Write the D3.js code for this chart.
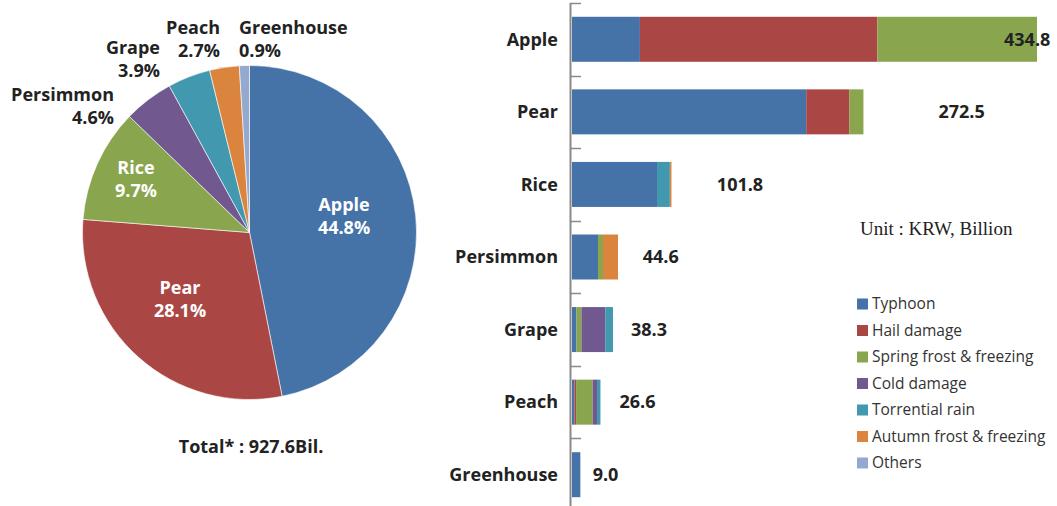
<!DOCTYPE html>
<html>
<head>
<meta charset="utf-8">
<title>Crop damage by cause</title>
<script src="https://d3js.org/d3.v7.min.js"></script>
<style>
  body { margin: 0; background: #fff; }
  text { font-family: "Open Sans", "Noto Sans", sans-serif; }
</style>
</head>
<body>
<script>
// data
var categories = ["Apple", "Pear", "Rice", "Persimmon", "Grape", "Peach", "Greenhouse"];
var totals = [434.8, 272.5, 101.8, 44.6, 38.3, 26.6, 9.0];
var pieShares = ["44.8%", "28.1%", "9.7%", "4.6%", "3.9%", "2.7%", "0.9%"];
var causes = ["Typhoon", "Hail damage", "Spring frost & freezing", "Cold damage",
              "Torrential rain", "Autumn frost & freezing", "Others"];
var typhoon    = [63.5, 219.0, 79.5, 24.3, 4.2, 2.3, 7.8];
var hail       = [222.0, 40.3, 0, 0, 0, 1.5, 0];
var springFrost= [149.3, 13.2, 0, 4.7, 4.6, 15.5, 0];
var coldDamage = [0, 0, 0, 0, 22.3, 4.1, 0];
var torrential = [0, 0, 12.0, 0, 7.2, 3.2, 0];
var autumnFrost= [0, 0, 1.5, 14.0, 0, 0, 0];
var others     = [0, 0, 0, 0, 0, 0, 0];
var totalText = "Total* : 927.6Bil.";
var unitText = "Unit : KRW, Billion";

var colors = ["#4572A7", "#AA4643", "#89A54E", "#71588F", "#4198AF", "#DB843D", "#93A9CF"];

var width = 1057, height = 506;
var svg = d3.select("body").append("svg").attr("width", width).attr("height", height);

// ---------- pie ----------
var cx = 249.5, cy = 232.5, r = 167;
var pie = d3.pie().sort(null).value(function (d) { return d; });
var arc = d3.arc().innerRadius(0).outerRadius(r);
var pg = svg.append("g").attr("transform", "translate(" + cx + "," + cy + ")");
pg.selectAll("path")
  .data(pie(totals))
  .enter().append("path")
  .attr("d", arc)
  .attr("fill", function (d, i) { return colors[i]; })
  .attr("stroke", "#fff")
  .attr("stroke-width", 0.6);

// label layout: [x, y of first line, anchor, colour]
var pieLabelPos = [
  [344, 205, "middle", "#fff"],
  [180, 288, "middle", "#fff"],
  [136, 168, "middle", "#fff"],
  [114, 95, "end", "#222"],
  [160, 48, "end", "#222"],
  [220, 28, "end", "#222"],
  [239, 28, "start", "#222"]
];
categories.forEach(function (c, i) {
  var p = pieLabelPos[i];
  var t = svg.append("text")
    .attr("x", p[0]).attr("y", p[1])
    .attr("text-anchor", p[2])
    .attr("fill", p[3])
    .attr("font-size", "18px")
    .attr("font-weight", "bold");
  t.append("tspan").attr("x", p[0]).attr("dy", "0.35em").text(c);
  t.append("tspan").attr("x", p[0]).attr("dy", 23).text(pieShares[i]);
});

svg.append("text")
  .attr("x", 251).attr("y", 447).attr("dy", "0.35em")
  .attr("text-anchor", "middle")
  .attr("font-size", "18px").attr("font-weight", "bold").attr("fill", "#222")
  .text(totalText);

// ---------- stacked bars ----------
var series = [typhoon, hail, springFrost, coldDamage, torrential, autumnFrost, others];
var rows = categories.map(function (c, i) {
  var o = { cat: c };
  causes.forEach(function (k, j) { o[k] = series[j][i]; });
  return o;
});
var stacked = d3.stack().keys(causes)(rows);

var x0 = 572;
var xScale = d3.scaleLinear().domain([0, 434.8]).range([x0, 1037]);
var yScale = d3.scaleBand().domain(categories).range([3, 511])
  .paddingInner(0.38).paddingOuter(0.19);

var bg = svg.append("g");
bg.selectAll("g")
  .data(stacked)
  .enter().append("g")
  .attr("fill", function (d, i) { return colors[i]; })
  .selectAll("rect")
  .data(function (d) { return d; })
  .enter().append("rect")
  .attr("x", function (d) { return xScale(d[0]); })
  .attr("y", function (d) { return yScale(d.data.cat); })
  .attr("width", function (d) { return xScale(d[1]) - xScale(d[0]); })
  .attr("height", yScale.bandwidth());

// axis line + ticks at band boundaries
var step = yScale.step();
var boundaries = categories.map(function (c) { return yScale(c) - step * 0.19; });
boundaries.push(yScale(categories[categories.length - 1]) + yScale.bandwidth() + step * 0.19);
svg.append("line")
  .attr("x1", 570.5).attr("x2", 570.5).attr("y1", boundaries[0]).attr("y2", height)
  .attr("stroke", "#8a8a8a").attr("stroke-width", 2);
svg.selectAll(".tick")
  .data(boundaries)
  .enter().append("line")
  .attr("x1", 570).attr("x2", 581)
  .attr("y1", function (d) { return Math.round(d) + 0.5; })
  .attr("y2", function (d) { return Math.round(d) + 0.5; })
  .attr("stroke", "#8a8a8a").attr("stroke-width", 1.5);

// category labels
svg.selectAll(".cat")
  .data(categories)
  .enter().append("text")
  .attr("x", 558)
  .attr("y", function (d) { return yScale(d) + yScale.bandwidth() / 2; })
  .attr("dy", "0.35em")
  .attr("text-anchor", "end")
  .attr("font-size", "18px").attr("font-weight", "bold").attr("fill", "#222")
  .text(function (d) { return d; });

// value labels, offsets from bar end
var valueGap = [-33, 75, 36, 23, 18, 19, 11];
svg.selectAll(".val")
  .data(totals)
  .enter().append("text")
  .attr("x", function (d, i) { return xScale(d) + valueGap[i]; })
  .attr("y", function (d, i) { return yScale(categories[i]) + yScale.bandwidth() / 2; })
  .attr("dy", "0.35em")
  .attr("font-size", "18px").attr("font-weight", "bold").attr("fill", "#222")
  .text(function (d) { return d.toFixed(1); });

// unit
svg.append("text")
  .attr("x", 860).attr("y", 235)
  .style("font-family", "'Liberation Serif', 'Times New Roman', serif")
  .attr("font-size", "19px").attr("fill", "#222")
  .text(unitText);

// legend
var lg = svg.append("g").attr("transform", "translate(857,304)");
var li = lg.selectAll("g")
  .data(causes)
  .enter().append("g")
  .attr("transform", function (d, i) { return "translate(0," + (i * 26.5) + ")"; });
li.append("rect")
  .attr("x", 0).attr("y", -5.5).attr("width", 11).attr("height", 11)
  .attr("fill", function (d, i) { return colors[i]; });
li.append("text")
  .attr("x", 15).attr("dy", "0.35em")
  .attr("font-size", "15.5px").attr("fill", "#333")
  .text(function (d) { return d; });
</script>
</body>
</html>
